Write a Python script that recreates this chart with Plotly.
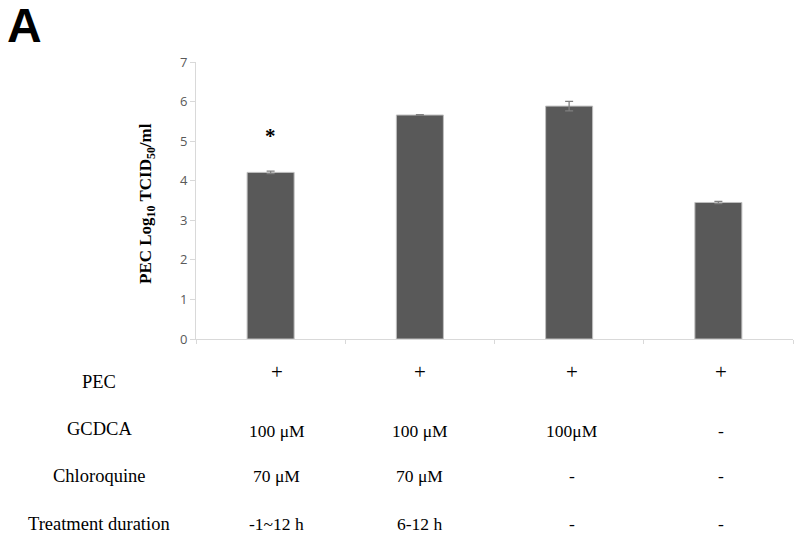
import plotly.graph_objects as go

# ---- data ----
categories = ["G1", "G2", "G3", "G4"]
titers = [4.21, 5.66, 5.885, 3.45]
errors = [0.03, 0.01, 0.12, 0.03]
significance = ["*", "", "", ""]

row_labels = ["PEC", "GCDCA", "Chloroquine", "Treatment duration"]
pec_row = ["+", "+", "+", "+"]
gcdca_row = ["100 \u03bcM", "100 \u03bcM", "100\u03bcM", "-"]
chloroquine_row = ["70 \u03bcM", "70 \u03bcM", "-", "-"]
duration_row = ["-1~12 h", "6-12 h", "-", "-"]
table_rows = [pec_row, gcdca_row, chloroquine_row, duration_row]

y_ticks = [0, 1, 2, 3, 4, 5, 6, 7]

# ---- layout geometry (pixels) ----
W, H = 800, 539
L, R, T, B = 196, 7, 62, 200
plot_h = H - T - B
plot_w = W - L - R


def py(pixel_y):
    return (H - B - pixel_y) / plot_h


def px(pixel_x):
    return (pixel_x - L) / plot_w


serif = "Liberation Serif, Times New Roman, serif"
sans = "Liberation Sans, Arial, sans-serif"

fig = go.Figure()
fig.add_trace(go.Bar(
    x=categories, y=titers, width=0.315,
    marker=dict(color="#595959", line=dict(color="#bfbfbf", width=1)),
    error_y=dict(type="data", array=errors, visible=True,
                 color="#808080", thickness=1.3, width=4),
    showlegend=False, hoverinfo="skip",
))

annotations = []
# significance marks
for c, v, e, s in zip(categories, titers, errors, significance):
    if s:
        annotations.append(dict(x=c, y=v + e + 0.9, xref="x", yref="y", text="<b>" + s + "</b>",
                                showarrow=False,
                                font=dict(family=serif, size=21, color="black"),
                                yanchor="middle"))

# table below the chart
row_label_y = [382, 428.5, 476, 524]
row_value_y = [372, 431, 476, 524]
col_shift = [6, 0, 3, 3]
for r, (label, ly, vy, vals) in enumerate(zip(row_labels, row_label_y, row_value_y, table_rows)):
    annotations.append(dict(x=px(99), y=py(ly), xref="paper", yref="paper",
                            text=label, showarrow=False,
                            font=dict(family=serif, size=18.5, color="black"),
                            xanchor="center", yanchor="middle"))
    for c, v, sh in zip(categories, vals, col_shift):
        annotations.append(dict(x=c, y=py(vy), xref="x", yref="paper",
                                text=v, showarrow=False, xshift=sh,
                                font=dict(family=serif, size=21 if v == "+" else 17.5,
                                          color="black"),
                                xanchor="center", yanchor="middle"))

# y-axis title
annotations.append(dict(x=px(147), y=py(204), xref="paper", yref="paper",
                        text="<b>PEC Log<sub>10</sub> TCID<sub>50</sub>/ml</b>",
                        textangle=-90, showarrow=False,
                        font=dict(family=serif, size=17, color="black"),
                        xanchor="center", yanchor="middle"))
# panel label
annotations.append(dict(x=px(24), y=py(25), xref="paper", yref="paper",
                        text="<b>A</b>", showarrow=False,
                        font=dict(family=sans, size=48, color="black"),
                        xanchor="center", yanchor="middle"))

fig.update_layout(
    width=W, height=H,
    margin=dict(l=L, r=R, t=T, b=B, pad=0),
    paper_bgcolor="white", plot_bgcolor="white",
    bargap=0.685,
    annotations=annotations,
    xaxis=dict(showticklabels=False, showline=True, linecolor="#d9d9d9",
               linewidth=1, ticks="outside", tickson="boundaries",
               ticklen=4, tickcolor="#d9d9d9", showgrid=False, zeroline=False,
               fixedrange=True),
    yaxis=dict(range=[0, 7], tickvals=y_ticks, showline=True,
               linecolor="#d9d9d9", linewidth=1, ticks="outside", ticklen=5,
               tickcolor="#d9d9d9", showgrid=False, zeroline=False,
               tickfont=dict(family="Open Sans, sans-serif", size=13, color="#595959"),
               fixedrange=True),
)

fig.write_html("out.html",
               config={"displayModeBar": False},
               post_script="document.body.style.margin='0';document.body.style.overflow='hidden';")
